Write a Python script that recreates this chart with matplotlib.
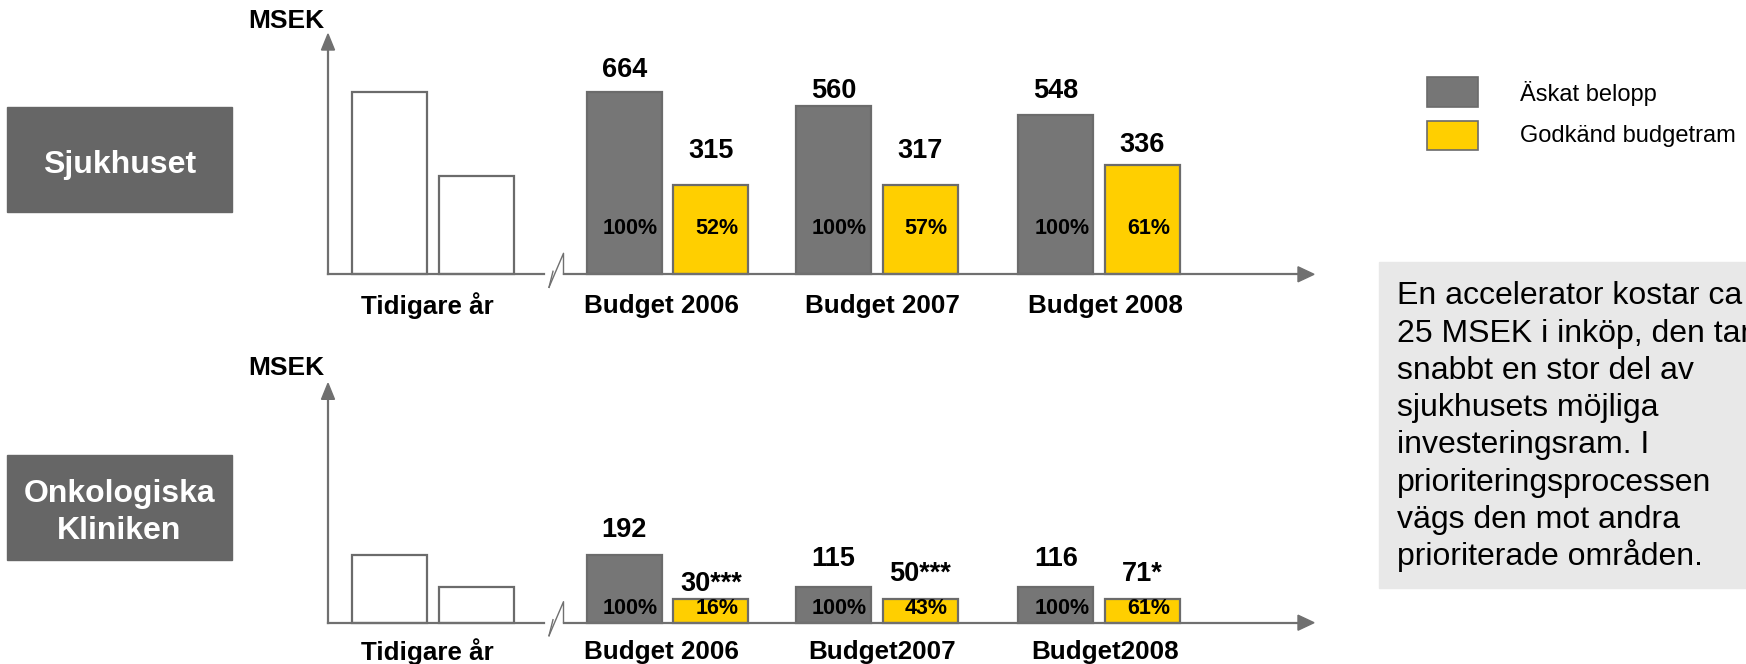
import matplotlib
matplotlib.use("Agg")
import matplotlib.pyplot as plt
from matplotlib.transforms import Affine2D, blended_transform_factory
from matplotlib.patches import Rectangle, Polygon
from matplotlib.lines import Line2D

plt.rcParams['font.family'] = ['Liberation Sans', 'DejaVu Sans']

# ---------------- data ----------------
panel_titles = ["Sjukhuset", "Onkologiska\nKliniken"]
categories_top = ["Tidigare år", "Budget 2006", "Budget 2007", "Budget 2008"]
categories_bottom = ["Tidigare år", "Budget 2006", "Budget2007", "Budget2008"]

# Sjukhuset
sjukhus_askat = [664, 560, 548]
sjukhus_godkand = [315, 317, 336]
sjukhus_askat_pct = ["100%", "100%", "100%"]
sjukhus_godkand_pct = ["52%", "57%", "61%"]
# bar heights as drawn in the picture (not strictly to scale)
sjukhus_tidigare_drawn = [664, 358]
sjukhus_askat_drawn = [664, 611, 580]
sjukhus_godkand_drawn = [326, 326, 397]

# Onkologiska kliniken
onko_askat = [192, 115, 116]
onko_godkand = [30, 50, 71]
onko_godkand_marks = ["***", "***", "*"]
onko_askat_pct = ["100%", "100%", "100%"]
onko_godkand_pct = ["16%", "43%", "61%"]
onko_tidigare_drawn = [192, 100]
onko_askat_drawn = [192, 100, 100]
onko_godkand_drawn = [68, 68, 68]

legend_labels = ["Äskat belopp", "Godkänd budgetram"]
note_lines = ["En accelerator kostar ca", "25 MSEK i inköp, den tar",
              "snabbt en stor del av", "sjukhusets möjliga",
              "investeringsram. I", "prioriteringsprocessen",
              "vägs den mot andra", "prioriterade områden."]

# ---------------- style / layout ----------------
W, H = 1746, 664
GRAY = "#767676"
EDGE = "#6b6b6b"
YELLOW = "#FFCF00"
BOX = "#666666"
NOTE_BG = "#E8E8E8"
AXC = "#707070"

tid_x = [389.8, 476.6]
askat_x = [624.2, 833.5, 1055.7]
godk_x = [710.8, 920.2, 1142.3]
bar_w = 75
cat_label_x = [427, 662, 882, 1105]

fig = plt.figure(figsize=(W / 100, H / 100), dpi=100)
px = Affine2D().scale(1 / W, -1 / H).translate(0, 1) + fig.transFigure


def panel(top_px, bot_px, base_px, scale, tid_h, ask_h, god_h,
          ask_vals, god_vals, god_marks, ask_pct, god_pct,
          ask_lab_y, god_lab_y, pct_y, cat_y, cats):
    ax = fig.add_axes([0, (H - bot_px) / H, 1, (bot_px - top_px) / H])
    ax.set_xlim(0, W)
    ax.set_ylim((base_px - bot_px) / scale, (base_px - top_px) / scale)
    ax.axis('off')
    ax.bar(tid_x, tid_h, width=bar_w, color="white", edgecolor=EDGE, linewidth=1.6)
    ax.bar(askat_x, ask_h, width=bar_w, color=GRAY, edgecolor=EDGE, linewidth=1.6)
    ax.bar(godk_x, god_h, width=bar_w, color=YELLOW, edgecolor=EDGE, linewidth=1.6)
    tr = blended_transform_factory(ax.transData, px)
    for i in range(3):
        ax.text(askat_x[i], ask_lab_y[i], str(ask_vals[i]), transform=tr,
                ha='center', va='center', fontsize=19.5, fontweight='bold')
        ax.text(godk_x[i], god_lab_y[i], f"{god_vals[i]}{god_marks[i]}", transform=tr,
                ha='center', va='center', fontsize=19.5, fontweight='bold')
        ax.text(askat_x[i] + 6, pct_y, ask_pct[i], transform=tr,
                ha='center', va='center', fontsize=15.5, fontweight='bold')
        ax.text(godk_x[i] + 6, pct_y, god_pct[i], transform=tr,
                ha='center', va='center', fontsize=15.5, fontweight='bold')
    for xx, c in zip(cat_label_x, cats):
        ax.text(xx, cat_y, c, transform=tr, ha='center', va='center',
                fontsize=18.7, fontweight='bold')
    return ax


def axes_frame(base, arrow_tip_y, msek_y):
    lw = 1.6
    fig.add_artist(Line2D([328, 328], [base, arrow_tip_y + 14], color=AXC, lw=lw, transform=px))
    fig.add_artist(Polygon([[328, arrow_tip_y], [321.5, arrow_tip_y + 16], [334.5, arrow_tip_y + 16]],
                           closed=True, color=AXC, transform=px))
    fig.add_artist(Line2D([328, 544], [base, base], color=AXC, lw=lw, transform=px))
    fig.add_artist(Line2D([549, 553], [base + 13, base - 3], color=AXC, lw=1.0, transform=px))
    fig.add_artist(Line2D([549, 563.5, 563.5], [base + 13, base - 21, base],
                          color=AXC, lw=1.0, transform=px))
    fig.add_artist(Line2D([563.5, 1300], [base, base], color=AXC, lw=lw, transform=px))
    fig.add_artist(Polygon([[1314, base], [1298, base - 7.5], [1298, base + 7.5]],
                           closed=True, color=AXC, transform=px))
    fig.text(286, msek_y, "MSEK", transform=px, ha='center', va='center',
             fontsize=19, fontweight='bold')


# top panel
panel(0, 320, 274.3, 182.6 / 664, sjukhus_tidigare_drawn, sjukhus_askat_drawn,
      sjukhus_godkand_drawn, sjukhus_askat, sjukhus_godkand, ["", "", ""],
      sjukhus_askat_pct, sjukhus_godkand_pct,
      [70, 91.5, 91.5], [151, 151, 145], 228, 305.5, categories_top)
axes_frame(274.3, 34, 20.5)

# bottom panel
panel(330, 664, 622.7, 67.7 / 192, onko_tidigare_drawn, onko_askat_drawn,
      onko_godkand_drawn, onko_askat, onko_godkand, onko_godkand_marks,
      onko_askat_pct, onko_godkand_pct,
      [530, 559, 559], [584, 574, 574], 609, 652, categories_bottom)
axes_frame(622.7, 383.3, 368)

# panel title boxes
fig.add_artist(Rectangle((7, 107), 225, 105, color=BOX, transform=px))
fig.text(119.5, 173, panel_titles[0], transform=px, ha='center', va='baseline',
         fontsize=23, fontweight='bold', color='white')
fig.add_artist(Rectangle((7, 455), 225, 105, color=BOX, transform=px))
for j, part in enumerate(panel_titles[1].split("\n")):
    fig.text(119.5, 501.7 + j * 37.6, part, transform=px, ha='center', va='baseline',
             fontsize=23, fontweight='bold', color='white')

# legend
fig.add_artist(Rectangle((1427, 77), 51, 30, facecolor=GRAY, edgecolor=EDGE, lw=1.2, transform=px))
fig.add_artist(Rectangle((1427, 121), 51, 29, facecolor=YELLOW, edgecolor=EDGE, lw=1.2, transform=px))
fig.text(1520, 93, legend_labels[0], transform=px, ha='left', va='center', fontsize=17)
fig.text(1520, 136, legend_labels[1], transform=px, ha='left', va='center', fontsize=17)

# note box
fig.add_artist(Rectangle((1379, 262), 400, 326, color=NOTE_BG, transform=px))
for i, line in enumerate(note_lines):
    fig.text(1397, 304.3 + i * 37.3, line, transform=px, ha='left', va='baseline', fontsize=23)

fig.savefig("out.png", dpi=100)
